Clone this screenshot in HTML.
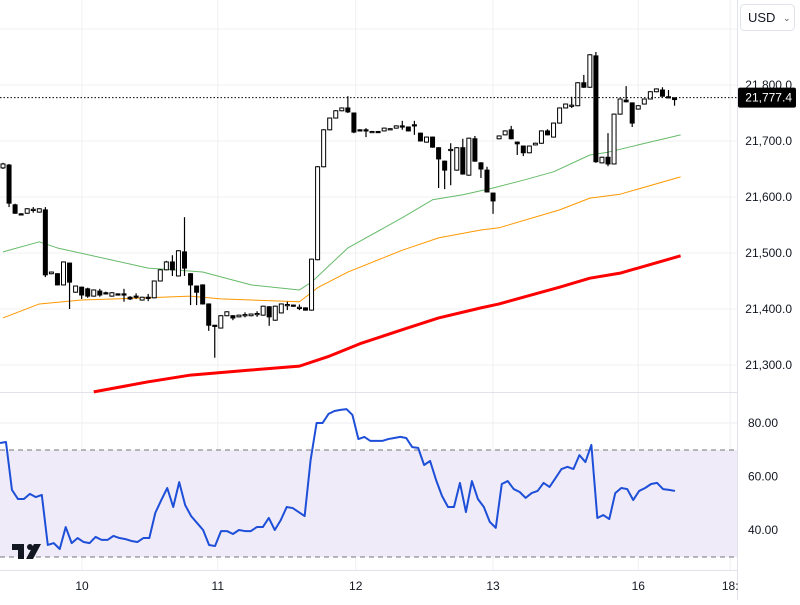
<!DOCTYPE html>
<html><head><meta charset="utf-8"><style>
body{margin:0;background:#fff;font-family:"Liberation Sans",sans-serif;}
svg text{font-family:"Liberation Sans",sans-serif;}
</style></head><body>
<svg id="c" width="800" height="600" xmlns="http://www.w3.org/2000/svg">
<rect width="800" height="600" fill="#fff"/>
<g id="grid"></g>
<rect x="0" y="450" width="737" height="107" fill="#efebf8"/>
<line x1="0" x2="737" y1="450" y2="450" stroke="#777" stroke-dasharray="5,4"/>
<line x1="0" x2="737" y1="557" y2="557" stroke="#777" stroke-dasharray="5,4"/>
<g id="ma"></g><g id="candles"></g><g id="rsi"></g><g id="axes"></g>
<g>
<rect x="12" y="544" width="12" height="6" fill="#131722"/><rect x="18" y="544" width="6" height="15" fill="#131722"/>
<circle cx="30" cy="547" r="3" fill="#131722"/><polygon points="34,544 41,544 33,559 26,559" fill="#131722"/></g>
<g>
<rect x="740.5" y="4.5" width="54" height="26" rx="4" fill="#fff" stroke="#e0e3eb"/>
<text x="748" y="22" font-size="13" fill="#131722">USD</text>
<text x="783" y="21" font-size="9" fill="#555">⌄</text></g>
</svg>
<script>
const opens=[21652,21657,21586,21570,21571,21576,21573,21577,21463,21463,21443,21482,21430,21439,21436,21423,21432,21429,21423,21427,21427,21421,21423,21416,21421,21420,21450,21470,21484,21459,21502,21463,21441,21443,21409,21371,21366,21388,21388,21386,21389,21388,21391,21389,21404,21380,21393,21407,21407,21402,21402,21398,21488,21654,21720,21741,21754,21759,21750,21720,21720,21716,21717,21718,21721,21723,21727,21725,21729,21714,21698,21707,21688,21664,21684,21648,21688,21639,21704,21661,21648,21607,21704,21711,21720,21698,21691,21679,21693,21696,21718,21707,21732,21759,21763,21763,21804,21796,21852,21661,21671,21659,21748,21773,21768,21757,21766,21775,21788,21791,21779,21777];
const closes=[21659,21589,21571,21569,21579,21578,21579,21461,21466,21443,21484,21448,21441,21425,21423,21434,21425,21428,21429,21425,21426,21418,21422,21421,21420,21450,21470,21484,21470,21504,21473,21443,21430,21409,21371,21370,21388,21395,21384,21389,21390,21391,21392,21405,21386,21405,21409,21408,21405,21403,21398,21489,21654,21720,21741,21754,21759,21752,21716,21719,21718,21717,21716,21723,21722,21727,21726,21718,21728,21700,21707,21689,21668,21648,21685,21688,21641,21705,21664,21650,21609,21593,21709,21718,21704,21695,21679,21691,21696,21718,21711,21732,21759,21766,21764,21804,21796,21854,21663,21671,21659,21748,21775,21770,21732,21763,21775,21788,21793,21780,21778,21774];
const highs=[21661,21659,21588,21571,21580,21582,21580,21582,21467,21464,21485,21483,21442,21440,21438,21435,21436,21431,21430,21428,21436,21423,21428,21422,21427,21451,21471,21486,21496,21505,21564,21464,21442,21444,21410,21371,21389,21396,21389,21390,21394,21392,21396,21406,21405,21406,21410,21413,21408,21408,21403,21490,21655,21721,21742,21755,21760,21780,21751,21721,21723,21718,21718,21724,21723,21728,21736,21726,21736,21715,21708,21708,21689,21665,21696,21689,21704,21706,21709,21662,21654,21608,21710,21719,21727,21699,21692,21692,21697,21719,21721,21733,21760,21767,21779,21805,21818,21855,21859,21672,21714,21749,21776,21798,21769,21764,21776,21789,21794,21796,21791,21778];
const lows=[21650,21582,21570,21568,21570,21572,21572,21457,21462,21442,21442,21400,21429,21418,21420,21422,21422,21426,21422,21424,21413,21416,21418,21415,21414,21419,21449,21469,21459,21458,21459,21407,21407,21408,21361,21313,21365,21387,21380,21385,21385,21387,21386,21388,21370,21379,21392,21398,21404,21398,21397,21397,21487,21653,21719,21740,21753,21750,21714,21718,21707,21715,21715,21717,21720,21722,21720,21717,21711,21699,21697,21688,21616,21614,21621,21647,21640,21638,21663,21634,21608,21570,21703,21710,21703,21675,21673,21678,21692,21695,21710,21706,21731,21758,21759,21762,21795,21795,21661,21660,21655,21658,21747,21769,21725,21756,21765,21774,21787,21779,21777,21763];
const maIdx=[0,6,9,24,28,33,41,49,51,57,66,71,76,81,86,91,97,100,105,112];
const ma50=[21502,21520,21509,21473,21470,21466,21443,21434,21448,21509,21563,21595,21604,21616,21630,21645,21675,21680,21693,21711];
const ma100Idx=[0,6,13,24,31,36,49,52,57,66,72,79,82,92,97,102,112];
const ma100=[21384,21409,21416,21420,21423,21418,21413,21438,21466,21505,21527,21541,21545,21577,21598,21605,21636];
const ma200Idx=[15,24,31,41,49,54,59,66,72,79,82,89,92,97,102,112];
const ma200=[21252,21270,21282,21291,21298,21316,21338,21363,21384,21402,21409,21430,21439,21455,21464,21495];
const rsiVals=[72.5,72.9,55.0,51.6,51.6,53.5,52.3,53.1,34.4,35.1,32.9,41.1,35.1,37.0,35.5,35.1,37.4,36.3,36.3,37.8,37.0,36.6,35.9,35.5,37.0,37.0,46.4,51.2,55.7,48.6,57.9,49.3,45.2,42.6,40.0,34.4,34.0,39.6,39.6,38.5,40.0,39.6,39.6,41.1,41.1,44.5,40.0,43.7,48.6,48.2,46.7,45.2,66.2,80.0,80.0,83.4,84.5,84.9,85.2,83.0,74.0,74.8,73.3,73.3,73.3,74.0,74.4,74.8,74.4,71.0,70.7,64.3,65.8,58.7,52.7,48.6,48.6,57.6,46.7,58.3,51.6,48.6,43.0,40.8,57.2,58.3,55.3,54.2,52.0,53.8,54.6,57.6,56.1,59.4,62.8,63.6,62.8,68.0,65.4,71.8,44.5,45.6,44.1,53.8,55.7,55.3,51.2,54.6,55.7,57.2,57.6,55.3,55.0,54.6];
const priceTicks=[21300,21400,21500,21600,21700,21800];
const rsiTicks=[40,60,80];
const dayLabels=["10","11","12","13","16","18:"];
const dayIdx=[13.06,35.5,58.3,81,105,120.2];
const lastPrice=21777.4;

const NS="http://www.w3.org/2000/svg";
const xOf=i=>3+i*6.05;
const yP=p=>85+(21800-p)*0.56;
const yR=v=>423+(80-v)*2.675;
function mk(tag,attrs,parent){const e=document.createElementNS(NS,tag);for(const k in attrs)e.setAttribute(k,attrs[k]);parent.appendChild(e);return e;}
const grid=document.getElementById('grid'),axes=document.getElementById('axes');
priceTicks.concat([21900]).forEach(p=>{const l=mk('line',{x1:0,x2:737,y1:yP(p),y2:yP(p),stroke:'#f0f0f3'},grid);

});
rsiTicks.forEach(v=>{const l=mk('line',{x1:0,x2:737,y1:yR(v),y2:yR(v),stroke:'#ececf0'},grid);

});
dayIdx.forEach(i=>{const l=mk('line',{x1:xOf(i),x2:xOf(i),y1:0,y2:570,stroke:'#f0f0f3'},grid);

});
const sep=mk('line',{x1:0,x2:737,y1:392.5,y2:392.5,stroke:'#e0e3eb'},grid);


const vs=mk('line',{x1:737.5,x2:737.5,y1:0,y2:600,stroke:'#e0e3eb'},grid);


const bs=mk('line',{x1:0,x2:737,y1:570.5,y2:570.5,stroke:'#e0e3eb'},grid);



const ma=document.getElementById('ma');
function line(idx,vals,col,w,name){const pts=idx.map((i,k)=>xOf(i)+','+yP(vals[k])).join(' ');
const p=mk('polyline',{points:pts,fill:'none',stroke:col,'stroke-width':w,'stroke-linejoin':'round'},ma);

}
line(maIdx,ma50,'#66bb6a',1,'ma-50-line');
line(ma100Idx,ma100,'#ff9800',1,'ma-100-line');
line(ma200Idx,ma200,'#f00',3,'ma-200-line');

const cg=document.getElementById('candles');
opens.forEach((o,i)=>{const c=closes[i],x=xOf(i),up=c>=o;
const g=mk('g',{},cg);


mk('line',{x1:x,x2:x,y1:yP(highs[i]),y2:yP(lows[i]),stroke:'#000','stroke-width':1.2},g);
const top=yP(Math.max(o,c)),h=Math.max(1.2,yP(Math.min(o,c))-top);
mk('rect',{x:x-2,y:top,width:4,height:h,fill:up?'#fff':'#000',stroke:'#000','stroke-width':1},g);});

const rg=document.getElementById('rsi');
const rp=mk('polyline',{points:rsiVals.map((v,i)=>(i*675/(rsiVals.length-1))+','+yR(v)).join(' '),fill:'none',stroke:'#1e4fd8','stroke-width':2,'stroke-linejoin':'round'},rg);



const pl=mk('line',{x1:0,x2:737,y1:yP(lastPrice),y2:yP(lastPrice),stroke:'#000','stroke-dasharray':'1.5,2'},axes);


priceTicks.forEach(p=>{const t=mk('text',{x:792,y:yP(p)+4,'font-size':12,'text-anchor':'end',fill:'#131722'},axes);
t.textContent=p.toLocaleString('en-US')+'.0';

});
rsiTicks.forEach(v=>{const t=mk('text',{x:778,y:yR(v)+4,'font-size':12,'text-anchor':'end',fill:'#131722'},axes);
t.textContent=v.toFixed(2);

});
dayLabels.forEach((d,k)=>{const t=mk('text',{x:xOf(dayIdx[k]),y:590,'font-size':12,'text-anchor':'middle',fill:'#131722'},axes);
t.textContent=d;

});
const lb=mk('rect',{x:738,y:yP(lastPrice)-10,width:58,height:20,rx:2,fill:'#000'},axes);


const lt=mk('text',{x:792,y:yP(lastPrice)+4,'font-size':12,'text-anchor':'end',fill:'#fff'},axes);
lt.textContent=lastPrice.toLocaleString('en-US',{minimumFractionDigits:1});


</script>
</body></html>
